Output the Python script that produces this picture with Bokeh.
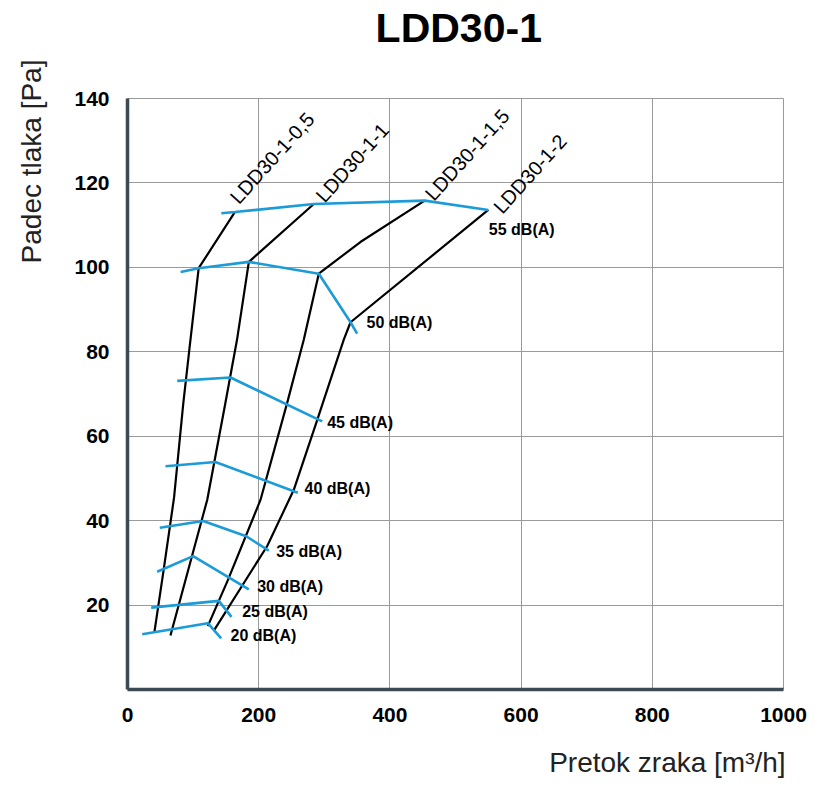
import math
from bokeh.plotting import figure
from bokeh.models import Range1d, FixedTicker, ColumnDataSource, LinearAxis
from bokeh.core.properties import value
from bokeh.embed import file_html
from bokeh.resources import INLINE

# ---------------- data ----------------
x_ticks = [0, 200, 400, 600, 800, 1000]
y_ticks = [20, 40, 60, 80, 100, 120, 140]

# black characteristic curves (air flow m3/h, pressure drop Pa)
curve_names = ["LDD30-1-0,5", "LDD30-1-1", "LDD30-1-1,5", "LDD30-1-2"]
c05_x = [41, 55, 71, 85, 95, 108.5, 163.6]
c05_y = [13.6, 28.2, 45.5, 67.7, 81.5, 99.8, 113.1]
c1_x = [65.5, 121.5, 149, 167, 185, 284]
c1_y = [12.8, 44.9, 67.7, 82.9, 101.3, 115]
c15_x = [122.4, 153, 202.7, 243.4, 268.8, 291.6, 355, 453]
c15_y = [15, 25.9, 44.9, 67.9, 82.9, 98.5, 106, 115.8]
c2_x = [132.6, 213, 253.5, 288, 329.7, 340, 550]
c2_y = [14.2, 34, 47.3, 63.3, 82.9, 87, 113.6]

# blue sound-level isolines
db_names = ["55 dB(A)", "50 dB(A)", "45 dB(A)", "40 dB(A)", "35 dB(A)", "30 dB(A)", "25 dB(A)", "20 dB(A)"]
db55_x = [143, 164, 284, 453, 550]
db55_y = [112.8, 113.1, 115, 115.8, 113.6]
db50_x = [81, 108.5, 185, 291.6, 340, 350]
db50_y = [98.9, 99.8, 101.3, 98.5, 87, 84.3]
db45_x = [75.7, 157, 296.8]
db45_y = [73.1, 73.9, 63.5]
db40_x = [57.9, 134, 259.6]
db40_y = [52.9, 53.9, 46.6]
db35_x = [49.2, 115.4, 181, 215.4]
db35_y = [38.3, 39.9, 36.3, 32.9]
db30_x = [45.2, 100, 184.9]
db30_y = [27.9, 31.6, 23.7]
db25_x = [36.1, 139.2, 158.5]
db25_y = [19.4, 21, 17.2]
db20_x = [22.4, 122.4, 142.8]
db20_y = [13.1, 15.7, 12.1]

title_text = "LDD30-1"
x_label = "Pretok zraka [m\u00b3/h]"
y_label = "Padec tlaka  [Pa]"

# ---------------- label positions ----------------
curve_lab_x = [162, 292.7, 459.3, 563.6]
curve_lab_y = [115.8, 116.2, 116.6, 113.5]
db_lab_x = [550.8, 364.3, 304.4, 269.8, 226.7, 197.7, 174.8, 157]
db_lab_y = [109, 86.9, 63.3, 47.5, 32.8, 24.5, 18.5, 12.8]
title_pos_x = 505
x_label_pos = 823
y_label_pos = 126

FONT = "Liberation Sans"
BLUE = "#1b9bd7"
GRID = "#9a9a9a"
AXIS = "#3b4a54"

p = figure(width=812, height=785, x_range=Range1d(0, 1000), y_range=Range1d(0, 140),
           output_backend="svg", toolbar_location=None, title=None,
           min_border_left=127, min_border_right=29, min_border_top=98, min_border_bottom=96)
p.background_fill_color = "white"
p.border_fill_color = "white"
p.outline_line_color = GRID
p.outline_line_width = 1

p.xaxis.ticker = FixedTicker(ticks=x_ticks)
p.yaxis.ticker = FixedTicker(ticks=y_ticks)
p.xgrid.ticker = FixedTicker(ticks=x_ticks)
p.ygrid.ticker = FixedTicker(ticks=y_ticks)
p.grid.grid_line_color = GRID
p.grid.grid_line_width = 1
p.grid.grid_line_alpha = 1

for ax in (p.xaxis, p.yaxis):
    ax.axis_line_color = AXIS
    ax.axis_line_width = 3.5
    ax.major_tick_line_color = None
    ax.minor_tick_line_color = None
    ax.major_tick_out = 0
    ax.major_tick_in = 0
    ax.major_label_text_font = FONT
    ax.major_label_text_font_style = "bold"
    ax.major_label_text_font_size = "21px"
    ax.major_label_text_color = "black"
p.yaxis.major_label_standoff = 18
p.xaxis.major_label_standoff = 18


def text_axis(ticks, overrides, standoff, size, style, color, orientation="horizontal"):
    return LinearAxis(ticker=FixedTicker(ticks=ticks), major_label_overrides=overrides,
                      axis_line_color=None, major_tick_line_color=None,
                      minor_tick_line_color=None, major_tick_out=0, major_tick_in=0,
                      minor_tick_out=0, minor_tick_in=0,
                      major_label_standoff=standoff, major_label_text_font=FONT,
                      major_label_text_font_size=size, major_label_text_font_style=style,
                      major_label_text_color=color, major_label_orientation=orientation)


# title (above) and axis titles, as single-label axes so they can sit off-centre
p.add_layout(text_axis([title_pos_x], {title_pos_x: title_text}, 48, "41px", "bold", "black"), "above")
p.add_layout(text_axis([x_label_pos], {x_label_pos: x_label}, 22, "28px", "normal", "#222222"), "below")
p.add_layout(text_axis([y_label_pos], {y_label_pos: y_label}, 24, "28px", "normal", "#222222",
                       orientation="parallel"), "left")

# black curves
for xs, ys in [(c05_x, c05_y), (c1_x, c1_y), (c15_x, c15_y), (c2_x, c2_y)]:
    p.line(xs, ys, line_color="black", line_width=2.2)

# blue isolines
for xs, ys in [(db55_x, db55_y), (db50_x, db50_y), (db45_x, db45_y), (db40_x, db40_y),
               (db35_x, db35_y), (db30_x, db30_y), (db25_x, db25_y), (db20_x, db20_y)]:
    p.line(xs, ys, line_color=BLUE, line_width=2.6)

# curve labels (rotated)
src_c = ColumnDataSource(dict(x=curve_lab_x, y=curve_lab_y, t=curve_names))
p.text(x="x", y="y", text="t", source=src_c, angle=math.radians(48),
       text_font=value(FONT), text_font_size="20px", text_color="black",
       text_align="left", text_baseline="alphabetic")

# dB labels
src_d = ColumnDataSource(dict(x=db_lab_x, y=db_lab_y, t=db_names))
p.text(x="x", y="y", text="t", source=src_d,
       text_font=value(FONT), text_font_size="16px", text_font_style="bold",
       text_color="black", text_align="left", text_baseline="middle")

open("out.html", "w").write(file_html(p, INLINE))
